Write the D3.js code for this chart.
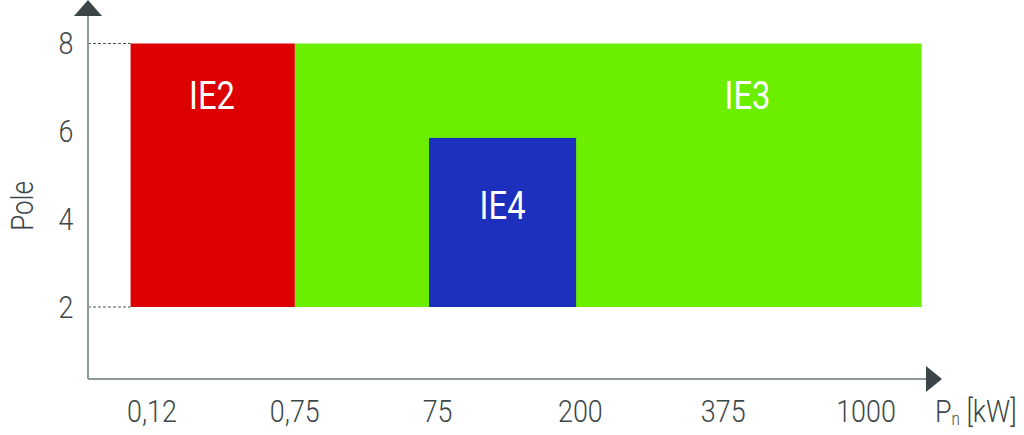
<!DOCTYPE html>
<html>
<head>
<meta charset="utf-8">
<script src="https://cdn.jsdelivr.net/npm/d3@7"></script>
<style>
  body { margin: 0; background: #fff; }
  text { font-family: Roboto, "Liberation Sans", sans-serif; font-weight: 300; fill: #3d4748; }
</style>
</head>
<body>
<div class="chart-div"></div>
<script>
// x ticks (power classes, kW) and y ticks (pole count)
const powerTicks = ["0,12", "0,75", "75", "200", "375", "1000"];
const poleTicks = [2, 4, 6, 8];

// efficiency zones, x in tick-index units, y in poles
const zoneNames = ["IE3", "IE2", "IE4"];
const zoneX0 = [1, -0.15, 1.94];
const zoneX1 = [5.39, 1, 2.97];
const zoneY0 = [2, 2, 2];
const zoneY1 = [8, 8, 5.85];
const zoneColors = ["#6cee00", "#dc0000", "#1c30bd"];
const labelX = [4.17, 0.42, 2.455];
const labelY = [6.8, 6.8, 4.3];

const width = 1024, height = 435;
const axisX = 88, axisY = 379;
const squeeze = 0.84; // condensed look

let svg = d3.select(".chart-div").append("svg")
    .attr("width", width)
    .attr("height", height);

let x = d3.scaleLinear().domain([0, 5]).range([152, 866]);
let y = d3.scaleLinear().domain([2, 8]).range([307, 43.5]);

// condensed text helper
function ctext(g, px, py, str, size, anchor) {
    return g.append("text")
        .attr("transform", `translate(${px},${py}) scale(${squeeze},1)`)
        .attr("text-anchor", anchor || "middle")
        .attr("dominant-baseline", "central")
        .style("font-size", size + "px")
        .text(str);
}

let zones = zoneNames.map((n, i) => ({name: n, x0: zoneX0[i], x1: zoneX1[i], y0: zoneY0[i], y1: zoneY1[i], color: zoneColors[i], lx: labelX[i], ly: labelY[i]}));

svg.selectAll("rect.zone")
    .data(zones)
    .enter().append("rect")
    .attr("class", "zone")
    .attr("x", d => x(d.x0))
    .attr("y", d => y(d.y1))
    .attr("width", d => x(d.x1) - x(d.x0))
    .attr("height", d => y(d.y0) - y(d.y1))
    .style("fill", d => d.color);

zones.forEach(d => {
    ctext(svg, x(d.lx), y(d.ly), d.name, 39).style("fill", "#fff").style("font-weight", 400);
});

// dashed guides from axis to the first zone
svg.selectAll("line.guide")
    .data([2, 8])
    .enter().append("line")
    .attr("class", "guide")
    .attr("x1", axisX)
    .attr("x2", x(zoneX0[1]))
    .attr("y1", d => y(d))
    .attr("y2", d => y(d))
    .style("stroke", "#4a5556")
    .style("stroke-width", 1)
    .style("stroke-dasharray", "3,2");

// axes
svg.append("line")
    .attr("x1", axisX).attr("x2", axisX)
    .attr("y1", 14).attr("y2", axisY)
    .style("stroke", "#8d9a9a").style("stroke-width", 2);
svg.append("line")
    .attr("x1", axisX).attr("x2", 928)
    .attr("y1", axisY).attr("y2", axisY)
    .style("stroke", "#8d9a9a").style("stroke-width", 2);

svg.append("path")
    .attr("d", `M${axisX},0 L${axisX + 14},16 L${axisX - 14},16 Z`)
    .style("fill", "#3b4446");
svg.append("path")
    .attr("d", `M942,${axisY} L926,${axisY - 13} L926,${axisY + 13} Z`)
    .style("fill", "#3b4446");

// tick labels
powerTicks.forEach((t, i) => ctext(svg, x(i), 411, t, 32));
poleTicks.forEach(p => ctext(svg, 66, y(p), p, 32));

// axis titles
svg.append("text")
    .attr("transform", `translate(22,206) rotate(-90) scale(${squeeze},1)`)
    .attr("text-anchor", "middle")
    .attr("dominant-baseline", "central")
    .style("font-size", "31px")
    .text("Pole");

let pn = svg.append("text")
    .attr("transform", `translate(935,411) scale(${squeeze},1)`)
    .attr("dominant-baseline", "central")
    .style("font-size", "32px");
pn.append("tspan").text("P");
pn.append("tspan").attr("dy", 7).style("font-size", "18px").text("n");
pn.append("tspan").attr("dy", -7).text(" [kW]");
</script>
</body>
</html>
